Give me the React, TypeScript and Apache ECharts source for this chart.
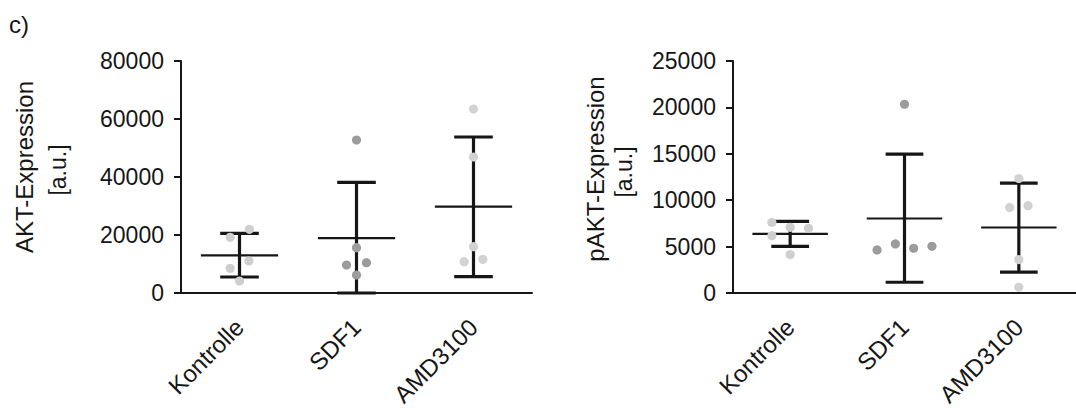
import React, { useEffect, useRef } from "react";
import * as echarts from "echarts";

const categories = ["Kontrolle", "SDF1", "AMD3100"];

// AKT-Expression [a.u.]
const aktKontrolle = [19200, 21960, 11030, 8500, 4140];
const aktSDF1 = [15620, 9650, 10450, 6200, 52760];
const aktAMD3100 = [63440, 46900, 15970, 10800, 11610];
const aktMean = [13000, 18900, 29800];
const aktLow = [5520, 0, 5620];
const aktHigh = [20590, 38160, 53790];
const aktTicks = { min: 0, max: 80000, interval: 20000 };

// pAKT-Expression [a.u.]
const paktKontrolle = [7610, 7075, 6970, 6180, 4140];
const paktSDF1 = [20340, 4640, 5290, 4820, 5030];
const paktAMD3100 = [12340, 9220, 9410, 3600, 620];
const paktMean = [6380, 8030, 7060];
const paktLow = [5030, 1160, 2240];
const paktHigh = [7720, 14960, 11840];
const paktTicks = { min: 0, max: 25000, interval: 5000 };

// layout: horizontal spread of dots (fraction of category band)
const aktSpread = [
  [-0.08, 0.085, 0.08, -0.08, 0],
  [0, -0.085, 0.085, 0, 0],
  [0, 0, 0, -0.08, 0.08],
];
const paktSpread = [
  [-0.16, 0, 0.16, -0.16, 0],
  [0, -0.24, -0.08, 0.08, 0.24],
  [0, -0.08, 0.08, 0, 0],
];
const dotColors = ["#cfcfcf", "#9c9c9c", "#d2d2d2"];

const INK = "#161616";
const FONT = "'Liberation Sans', Arial, sans-serif";

function pointData(groups: number[][], spread: number[][]) {
  const out: number[][] = [];
  groups.forEach((vals, ci) => {
    vals.forEach((v, i) => out.push([ci, v, spread[ci][i]]));
  });
  return out;
}

function barData(mean: number[], low: number[], high: number[]) {
  return mean.map((m, i) => [i, m, low[i], high[i]]);
}

const renderBars = (params: any, api: any) => {
  const ci = api.value(0);
  const pm = api.coord([ci, api.value(1)]);
  const pl = api.coord([ci, api.value(2)]);
  const ph = api.coord([ci, api.value(3)]);
  const band = api.size([1, 0])[0];
  const x = pm[0];
  const meanHalf = band * 0.33;
  const capHalf = band * 0.165;
  const st = (w: number) => ({ stroke: INK, lineWidth: w, lineCap: "butt" });
  return {
    type: "group",
    children: [
      { type: "line", shape: { x1: x, y1: ph[1], x2: x, y2: pl[1] }, style: st(3.2) },
      { type: "line", shape: { x1: x - capHalf, y1: ph[1], x2: x + capHalf, y2: ph[1] }, style: st(3.2) },
      { type: "line", shape: { x1: x - capHalf, y1: pl[1], x2: x + capHalf, y2: pl[1] }, style: st(3.2) },
      { type: "line", shape: { x1: x - meanHalf, y1: pm[1], x2: x + meanHalf, y2: pm[1] }, style: st(2.2) },
    ],
  };
};

const renderDots = (params: any, api: any) => {
  const ci = api.value(0);
  const p = api.coord([ci, api.value(1)]);
  const band = api.size([1, 0])[0];
  return {
    type: "circle",
    shape: { cx: p[0] + api.value(2) * band, cy: p[1], r: 4.6 },
    style: { fill: dotColors[ci] },
  };
};

function xAxisCfg(gridIndex: number) {
  return {
    type: "category",
    gridIndex,
    data: categories,
    boundaryGap: true,
    axisLine: { lineStyle: { color: INK, width: 2 } },
    axisTick: { alignWithLabel: true, length: 7, lineStyle: { color: INK, width: 2 } },
    axisLabel: {
      rotate: 45,
      margin: 30,
      fontSize: 24,
      color: INK,
      fontFamily: FONT,
      interval: 0,
    },
    splitLine: { show: false },
  };
}

function yAxisCfg(gridIndex: number, t: { min: number; max: number; interval: number }) {
  return {
    type: "value",
    gridIndex,
    min: t.min,
    max: t.max,
    interval: t.interval,
    axisLine: { show: true, lineStyle: { color: INK, width: 2 } },
    axisTick: { show: true, length: 7, lineStyle: { color: INK, width: 2 } },
    axisLabel: {
      margin: 17,
      fontSize: 23,
      color: INK,
      fontFamily: FONT,
      formatter: (v: number) => String(v),
    },
    splitLine: { show: false },
  };
}

function nameText(text: string, x: number, y: number, size: number) {
  return {
    type: "text",
    x,
    y,
    rotation: Math.PI / 2,
    style: {
      text,
      fontSize: size,
      fontFamily: FONT,
      fill: INK,
      align: "center",
      verticalAlign: "middle",
    },
  };
}

export default function App() {
  const ref = useRef<HTMLDivElement>(null);
  useEffect(() => {
    if (!ref.current) return;
    const chart = echarts.init(ref.current, undefined, { renderer: "svg" });
    chart.setOption({
      animation: false,
      backgroundColor: "#ffffff",
      grid: [
        { left: 181, top: 61, width: 351, height: 232 },
        { left: 733, top: 61, width: 350, height: 232 },
      ],
      xAxis: [xAxisCfg(0), xAxisCfg(1)],
      yAxis: [yAxisCfg(0, aktTicks), yAxisCfg(1, paktTicks)],
      graphic: [
        {
          type: "text",
          left: 9,
          top: 12,
          style: { text: "c)", fontSize: 24, fontFamily: FONT, fill: INK },
        },
        nameText("AKT-Expression", 24, 167, 24),
        nameText("[a.u.]", 58, 170, 23),
        nameText("pAKT-Expression", 595, 169, 24),
        nameText("[a.u.]", 624, 172, 23),
      ],
      series: [
        {
          type: "custom",
          xAxisIndex: 0,
          yAxisIndex: 0,
          renderItem: renderBars,
          clip: false,
          data: barData(aktMean, aktLow, aktHigh),
        },
        {
          type: "custom",
          xAxisIndex: 0,
          yAxisIndex: 0,
          renderItem: renderDots,
          clip: false,
          data: pointData([aktKontrolle, aktSDF1, aktAMD3100], aktSpread),
        },
        {
          type: "custom",
          xAxisIndex: 1,
          yAxisIndex: 1,
          renderItem: renderBars,
          clip: false,
          data: barData(paktMean, paktLow, paktHigh),
        },
        {
          type: "custom",
          xAxisIndex: 1,
          yAxisIndex: 1,
          renderItem: renderDots,
          clip: false,
          data: pointData([paktKontrolle, paktSDF1, paktAMD3100], paktSpread),
        },
      ],
    });
    return () => chart.dispose();
  }, []);
  return (
    <div
      ref={ref}
      style={{ position: "absolute", left: 0, top: 0, width: 1076, height: 412 }}
    />
  );
}
